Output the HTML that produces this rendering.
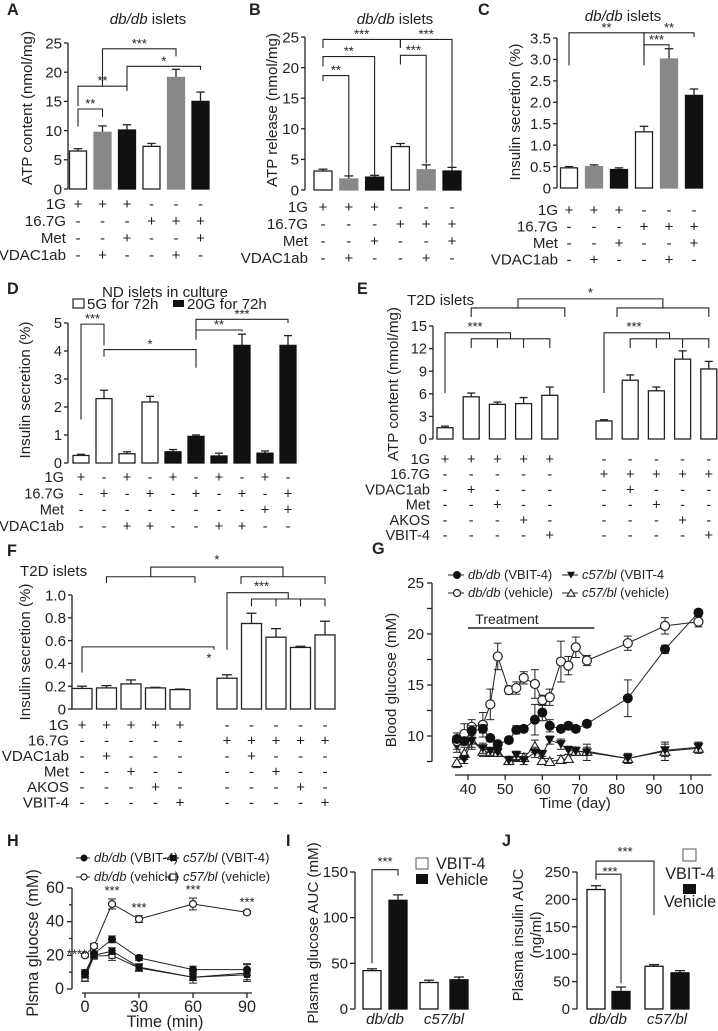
<!DOCTYPE html>
<html><head><meta charset="utf-8"><style>
html,body{margin:0;padding:0;background:#fff}
svg{display:block;font-family:"Liberation Sans",Arial,sans-serif}
</style></head><body>
<svg id="fig" xmlns="http://www.w3.org/2000/svg" width="718" height="1031" viewBox="0 0 718 1031"></svg>
<script>
// ---------- data ----------
const condA = {"1G":"+++---","16.7G":"---+++","Met":"--+--+","VDAC1ab":"-+--+-"};
const valsA = [6.5,9.7,10.1,7.3,19.1,15.0];
const errsA = [0.4,1.1,0.9,0.5,1.4,1.6];
const valsB = [3.1,1.8,2.1,7.1,3.3,3.1];
const errsB = [0.3,0.5,0.3,0.5,0.8,0.6];
const valsC = [0.47,0.50,0.43,1.31,3.01,2.16];
const errsC = [0.03,0.04,0.04,0.13,0.24,0.15];
const condD = {"1G":"+-+-+-+-+-","16.7G":"-+-+-+-+-+","Met":"--------++","VDAC1ab":"--++--++--"};
const valsD = [0.27,2.3,0.33,2.18,0.4,0.95,0.25,4.2,0.35,4.2];
const errsD = [0.04,0.3,0.07,0.2,0.08,0.05,0.1,0.4,0.08,0.35];
const condE = {"1G":"+++++-----","16.7G":"-----+++++","VDAC1ab":"-+----+---","Met":"--+----+--","AKOS":"---+----+-","VBIT-4":"----+----+"};
const valsE = [1.5,5.6,4.6,4.7,5.8,2.4,7.8,6.4,10.6,9.3];
const errsE = [0.2,0.5,0.3,0.8,1.1,0.15,0.7,0.5,1.1,1.0];
const valsF = [0.18,0.185,0.22,0.185,0.17,0.27,0.75,0.63,0.54,0.65];
const errsF = [0.02,0.02,0.035,0.005,0.005,0.03,0.09,0.075,0.01,0.12];
const daysG = [37,39,41,44,46,48,51,53,55,58,60,62,65,67,69,72,83,93,102];
const dbVbitG = [9.7,9.5,10.5,10.7,9.8,9.2,9.6,10.6,10.7,11.6,12.3,11.0,10.7,11.0,10.7,11.2,13.7,18.5,22.1];
const dbVbitErrG = [0.3,0.4,0.5,0.4,0.3,0.3,0.3,0.4,0.3,1.5,0.8,0.6,0.3,0.3,0.3,0.3,1.8,0.4,0.3];
const dbVehG = [9.5,10.2,10.9,11.1,13.1,17.8,14.5,14.7,15.7,15.1,13.5,13.8,17.3,16.9,18.7,17.4,19.1,20.8,21.2];
const dbVehErrG = [0.8,1.0,0.7,1.2,1.5,1.3,0.4,0.6,0.6,1.4,0.5,0.8,2.0,0.9,1.0,0.5,0.7,0.8,0.5];
const cVbitG = [9.0,7.7,9.5,8.8,8.5,8.4,7.6,8.1,7.6,8.4,8.2,9.6,9.2,8.6,8.5,8.4,7.8,8.6,8.9];
const cVbitErrG = [0.6,0.4,0.8,0.5,0.4,0.4,0.4,0.4,0.4,0.5,0.4,0.4,0.5,0.4,0.4,0.8,0.5,0.6,0.5];
const cVehG = [7.4,8.3,9.6,8.5,8.4,8.4,7.6,8.0,7.9,9.0,7.6,7.5,7.7,7.8,8.5,8.5,7.8,8.5,8.8];
const cVehErrG = [0.5,0.6,0.7,0.5,0.4,0.4,0.4,0.5,0.4,0.6,0.4,0.3,0.4,0.4,0.4,0.4,0.4,0.9,0.5];
const timeH = [0,5,15,30,60,90];
const dbVehH = [20,25.5,50.5,41.5,50.5,45.5];
const dbVehErrH = [1,1.5,3,2,3.5,1];
const dbVbitH = [9.5,21,29.5,18.5,11.5,11.5];
const dbVbitErrH = [2,1.5,2,1.5,2,3.5];
const cVbitH = [8.5,20,22.5,13,7,8.5];
const cVbitErrH = [2,1.5,2,2,2,3];
const cVehH = [6.5,19.5,20,12.5,7,9.5];
const cVehErrH = [2,1.5,3,2,3.5,5];
const sigH = ["****","","***","***","***","***"];
const valsI = [42,119,29,32];
const errsI = [2,6,2.5,3];
const valsJ = [218,32,78,66];
const errsJ = [7,8,3,4];
const catsIJ = ["db/db","c57/bl"];

// ---------- helpers ----------
const NS='http://www.w3.org/2000/svg';
const svg=document.getElementById('fig');
const FS=1.08;
function mk(tag,attrs,parent){const e=document.createElementNS(NS,tag);for(const k in attrs)e.setAttribute(k,attrs[k]);(parent||svg).appendChild(e);return e;}
function T(s,x,y,o,parent){o=o||{};const e=mk('text',{x:x,y:y,'font-size':(o.fs||14)*FS,'text-anchor':o.a||'start','font-style':o.it?'italic':'normal','font-weight':o.b?'bold':'normal',fill:'#222'},parent);if(o.rot)e.setAttribute('transform','rotate(-90 '+x+' '+y+')');e.textContent=s;return e;}
function L(x1,y1,x2,y2,parent,w){return mk('line',{x1:x1,y1:y1,x2:x2,y2:y2,stroke:'#222','stroke-width':w||1.3},parent);}
function P(d,parent,w){return mk('path',{d:d,fill:'none',stroke:'#222','stroke-width':w||1.3},parent);}
function lin(d0,d1,r0,r1){return v=>r0+(v-d0)*(r1-r0)/(d1-d0);}
function letter(s,x,y){const t=T(s,x,y,{fs:15,b:true});}
function mixed(it,rest,x,y,fs,anchor,parent){
  const t=mk('text',{x:x,y:y,'font-size':fs*FS,'text-anchor':anchor,fill:'#222'},parent);
  const a=mk('tspan',{'font-style':'italic'},t);a.textContent=it;
  const b=mk('tspan',{},t);b.textContent=rest;
  return t;
}
function title(it,rest,cx,y){
  const t=mixed(it,rest,cx,y,14,'middle');
  
  
}

function barPanel(p){
  const g=mk('g',{});
  
  
  const y=lin(0,p.max,p.yBot,p.yTop);
  const ax=mk('g',{},g);
  
  
  L(p.ax,y(0),p.ax,y(p.max),ax);
  p.ticks.forEach(t=>{L(p.ax-4,y(t),p.ax,y(t),ax);T(p.fmt?p.fmt(t):String(t),p.ax-6,y(t)+p.fs*0.38,{fs:p.fs,a:'end'},ax);});
  const yl=T(p.ylabel,p.ylx,p.yly,{fs:p.lfs||p.fs,a:'middle',rot:true},g);
  
  
  p.vals.forEach((v,i)=>{
    const cx=p.x(i),w=p.bw;
    const fill=p.fills[i];
    const top=y(v+p.errs[i]);
    L(cx,y(v),cx,top,g);L(cx-w*0.25,top,cx+w*0.25,top,g);
    const r=mk('rect',{x:cx-w/2,y:y(v),width:w,height:y(0)-y(v),fill:fill,stroke:fill==='#fff'?'#222':fill,'stroke-width':1.3},g);
    
    
  });
  if(p.cond){
    Object.keys(p.cond).forEach((k,ri)=>{
      const ry=p.rowY0+ri*p.rowStep;
      const lt=T(k,p.labelX,ry,{fs:p.rfs||p.fs,a:'end'},g);
      
      
      p.cond[k].split('').forEach((c,i)=>{T(c,p.x(i),ry,{fs:p.rfs||p.fs,a:'middle'},g);});
    });
  }
  (p.brackets||[]).forEach(b=>{
    const x1=p.x(b[0]),x2=p.x(b[1]),ly=y(b[2]);
    const bp=P('M'+x1+' '+y(b[3])+'V'+ly+'H'+x2+'V'+y(b[4]),g,1.1);
    
    
    T(b[5],(x1+x2)/2,ly-1,{fs:12,a:'middle'},g);
  });
  return {g:g,y:y};
}

// ---------- A ----------
letter('A',7,15);
title('db/db',' islets',148,24);
barPanel({id:'a',ax:68,yTop:43,yBot:189,max:25,ticks:[0,5,10,15,20,25],fs:14,ylabel:'ATP content (nmol/mg)',ylx:32,yly:108,
  x:i=>78+i*24.5,bw:17,vals:valsA,errs:errsA,fills:['#fff','#888','#111','#fff','#888','#111'],
  cond:condA,rowY0:209,rowStep:17,labelX:66,
  brackets:[[0,1,13.7,10.7,12.3,'**'],[0,2,17.6,14.2,16.8,'**'],[1,4,24,17.6,22.7,'***'],[2,5,21,17.6,20.4,'*']]});
// ---------- B ----------
letter('B',249,15);
title('db/db',' islets',395,24);
barPanel({id:'b',ax:305,yTop:37,yBot:190,max:25,ticks:[0,5,10,15,20,25],fs:14,ylabel:'ATP release (nmol/mg)',ylx:277,yly:110,
  x:i=>323+i*25.8,bw:18,vals:valsB,errs:errsB,fills:['#fff','#888','#111','#fff','#888','#111'],
  cond:condA,rowY0:212,rowStep:17,labelX:308,
  brackets:[[0,3,24.6,23.2,23.2,'***'],[3,5,24.6,23.2,3.8,'***'],[0,2,21.8,20.2,2.5,'**'],[3,4,22,20.5,4.3,'***'],[0,1,18.7,17.8,2.3,'**']]});
// ---------- C ----------
letter('C',478,15);
title('db/db',' islets',623,21);
barPanel({id:'c',ax:557,yTop:38,yBot:188,max:3.5,ticks:[0,0.5,1,1.5,2,2.5,3,3.5],fmt:t=>t===0?'0':t.toFixed(1),fs:14,ylabel:'Insulin secretion (%)',ylx:520,yly:112,
  x:i=>569+i*25,bw:17,vals:valsC,errs:errsC,fills:['#fff','#888','#111','#fff','#888','#111'],
  cond:condA,rowY0:215,rowStep:16.5,labelX:558,
  brackets:[[0,3,3.62,2.86,2.86,'**'],[3,5,3.62,3.3,3.52,'**'],[3,4,3.34,3.1,3.27,'***']]});
// ---------- D ----------
letter('D',7,294);
T('ND islets in culture',165,297,{fs:14,a:'middle'});
mk('rect',{x:73,y:299,width:11,height:9,fill:'#fff',stroke:'#222','stroke-width':1.2});
T('5G for 72h',87,309,{fs:14});
mk('rect',{x:173,y:300,width:11,height:7,fill:'#111'});
T('20G for 72h',187,309,{fs:14});
barPanel({id:'d',ax:68,yTop:323,yBot:463,max:5,ticks:[0,1,2,3,4,5],fs:13.5,lfs:14,ylabel:'Insulin secretion (%)',ylx:30,yly:390,
  x:i=>81+i*23,bw:16,vals:valsD,errs:errsD,fills:['#fff','#fff','#fff','#fff','#111','#111','#111','#111','#111','#111'],
  cond:condD,rowY0:482,rowStep:16.3,labelX:64,
  brackets:[[0,1,4.96,1.55,4.2,'***'],[1,5,4.05,3.8,3.4,'*'],[5,7,4.75,4.4,4.7,'**'],[5,9,5.13,4.7,5.0,'***']]});
// ---------- E ----------
letter('E',357,294);
const xE=i=>445+i*26.2+(i>=5?28:0);
const E=barPanel({id:'e',ax:433,yTop:326,yBot:439,max:15,ticks:[0,3,6,9,12,15],fs:13.5,lfs:14,ylabel:'ATP content (nmol/mg)',ylx:398,yly:384,
  x:xE,bw:16,vals:valsE,errs:errsE,fills:Array(10).fill('#fff'),
  cond:condE,rowY0:464,rowStep:15.2,labelX:430,brackets:[]});
T('T2D islets',407,305,{fs:14});
(function(){const y=E.y;
  [[0,1,4],[5,6,9]].forEach(gp=>{
    const xa=xE(gp[0]),xm=(xE(gp[1])+xE(gp[2]))/2;
    P('M'+xa+' '+y(6.1)+'V'+y(14.1)+'H'+xm+'V'+y(13.3),E.g,1.1);
    P('M'+xE(gp[1])+' '+y(12.1)+'V'+y(13.3)+'H'+xE(gp[2])+'V'+y(12.1),E.g,1.1);
    for(let k=gp[1]+1;k<gp[2];k++)L(xE(k),y(13.3),xE(k),y(12.1),E.g,1.1);
    T('***',xa+30,y(14.1)-2,{fs:12,a:'middle'},E.g);
  });
  const l1=xE(1),l2=xE(4)+15,r1=xE(5)+13,r2=xE(9);
  P('M'+l1+' '+y(16.2)+'V'+y(17.4)+'H'+l2+'V'+y(16.2),E.g,1.1);
  P('M'+r1+' '+y(16.2)+'V'+y(17.4)+'H'+r2+'V'+y(16.2),E.g,1.1);
  P('M'+((l1+l2)/2)+' '+y(17.4)+'V'+y(18.6)+'H'+((r1+r2)/2)+'V'+y(17.4),E.g,1.1);
  T('*',(l1+l2+r1+r2)/4,y(18.6)-2,{fs:12,a:'middle'},E.g);
})();
// ---------- F ----------
letter('F',7,556);
T('T2D islets',20,576,{fs:14});
const xF=i=>82+i*24.5+(i>=5?22.5:0);
const F=barPanel({id:'f',ax:72,yTop:595,yBot:709,max:1.0,ticks:[0,0.2,0.4,0.6,0.8,1.0],fmt:t=>t===0?'0':t.toFixed(1),fs:14,ylabel:'Insulin secretion (%)',ylx:30,yly:652,
  x:xF,bw:20,vals:valsF,errs:errsF,fills:Array(10).fill('#fff'),
  cond:condE,rowY0:730,rowStep:15.5,labelX:69,brackets:[]});
(function(){const y=F.y;
  const l1=xF(1),l2=xF(4)+15,r1=xF(5)+14,r2=xF(9);
  P('M'+l1+' '+y(1.105)+'V'+y(1.16)+'H'+l2+'V'+y(1.105),F.g,1.1);
  P('M'+r1+' '+y(1.095)+'V'+y(1.16)+'H'+r2+'V'+y(1.095),F.g,1.1);
  P('M'+((l1+l2)/2)+' '+y(1.16)+'V'+y(1.245)+'H'+((r1+r2)/2)+'V'+y(1.16),F.g,1.1);
  T('*',(l1+l2+r1+r2)/4,y(1.245)-3,{fs:12,a:'middle'},F.g);
  const xm=(xF(6)+xF(9))/2;
  P('M'+xF(5)+' '+y(0.52)+'V'+y(1.02)+'H'+xm+'V'+y(0.965),F.g,1.1);
  P('M'+xF(6)+' '+y(0.9)+'V'+y(0.965)+'H'+xF(9)+'V'+y(0.9),F.g,1.1);
  for(let k=7;k<9;k++)L(xF(k),y(0.965),xF(k),y(0.9),F.g,1.1);
  T('***',xF(6)+10,y(1.02)-2,{fs:12,a:'middle'},F.g);
  P('M'+xF(0)+' '+y(0.32)+'V'+y(0.545)+'H'+(xF(5)-13)+'V'+y(0.52),F.g,1.1);
  T('*',xF(5)-18,y(0.41),{fs:12,a:'middle'},F.g);
})();

// ---------- markers ----------
function marker(type,cx,cy,s,parent){
  let e;
  if(type==='fc')e=mk('circle',{cx:cx,cy:cy,r:s,fill:'#111',stroke:'#111'},parent);
  else if(type==='oc')e=mk('circle',{cx:cx,cy:cy,r:s,fill:'#fff',stroke:'#222','stroke-width':1.2},parent);
  else if(type==='dt')e=mk('path',{d:'M'+(cx-s)+' '+(cy-s*0.8)+'H'+(cx+s)+'L'+cx+' '+(cy+s*0.9)+'Z',fill:'#111'},parent);
  else if(type==='ut')e=mk('path',{d:'M'+(cx-s)+' '+(cy+s*0.8)+'H'+(cx+s)+'L'+cx+' '+(cy-s*0.9)+'Z',fill:'#fff',stroke:'#222','stroke-width':1.1},parent);
  else if(type==='fs')e=mk('rect',{x:cx-s,y:cy-s,width:2*s,height:2*s,fill:'#111'},parent);
  else e=mk('rect',{x:cx-s,y:cy-s,width:2*s,height:2*s,fill:'#fff',stroke:'#222','stroke-width':1.1},parent);
  return e;
}
function series(name,xs,ys,es,xf,yf,type,s,parent){
  const g=mk('g',{},parent);
  
  
  let d='';
  xs.forEach((x,i)=>{d+=(i?'L':'M')+xf(x)+' '+yf(ys[i]);});
  P(d,g,1);
  xs.forEach((x,i)=>{const cx=xf(x);L(cx,yf(ys[i]-es[i]),cx,yf(ys[i]+es[i]),g,1);L(cx-4,yf(ys[i]+es[i]),cx+4,yf(ys[i]+es[i]),g,1);L(cx-4,yf(ys[i]-es[i]),cx+4,yf(ys[i]-es[i]),g,1);});
  xs.forEach((x,i)=>{const m=marker(type,xf(x),yf(ys[i]),s,g);
    
    });
}

// ---------- G ----------
letter('G',372,554);
(function(){
  const g=mk('g',{});
  
  
  const xf=lin(40,100,468,691), yf=lin(10,25,736,583);
  L(432,yf(7.5),432,yf(25),g);
  [7.5,10,12.5,15,17.5,20,22.5,25].forEach(t=>{L(427,yf(t),432,yf(t),g);if(t%5===0)T(String(t),424,yf(t)+5,{fs:14,a:'end'},g);});
  L(xf(36.5),775,xf(105.5),775,g);
  [40,50,60,70,80,90,100].forEach(t=>{L(xf(t),775,xf(t),780,g);T(String(t),xf(t),794,{fs:14,a:'middle'},g);});
  T('Time (day)',575,808,{fs:14,a:'middle'},g);
  T('Blood glucose (mM)',396,680,{fs:14,a:'middle',rot:true},g);
  L(xf(40),628,xf(74),628,g,1.5);
  T('Treatment',507,624,{fs:13,a:'middle'},g);
  series('c57-vehicle',daysG,cVehG,cVehErrG,xf,yf,'ut',5,g);
  series('c57-vbit4',daysG,cVbitG,cVbitErrG,xf,yf,'dt',5,g);
  series('dbdb-vehicle',daysG,dbVehG,dbVehErrG,xf,yf,'oc',4.5,g);
  series('dbdb-vbit4',daysG,dbVbitG,dbVbitErrG,xf,yf,'fc',4.5,g);
  const lg=mk('g',{},g);
  
  
  [[448,575,'fc','db/db',' (VBIT-4)'],[448,593,'oc','db/db',' (vehicle)'],[562,575,'dt','c57/bl',' (VBIT-4'],[562,593,'ut','c57/bl',' (vehicle)']].forEach(r=>{
    L(r[0],r[1],r[0]+16,r[1],lg,1);marker(r[2],r[0]+9,r[1],r[2]==='fc'||r[2]==='oc'?3.5:4,lg);
    mixed(r[3],'\u00a0'+r[4].trim(),r[0]+20,r[1]+4,12,'start',lg);
  });
})();

// ---------- H ----------
letter('H',7,846);
(function(){
  const g=mk('g',{});
  
  
  const xf=lin(0,90,85,247), yf=lin(0,60,989,888);
  L(72,yf(0),72,yf(60),g);
  [0,20,40,60].forEach(t=>{L(67,yf(t),72,yf(t),g);T(String(t),64,yf(t)+5,{fs:15,a:'end'},g);});
  [10,30,50].forEach(t=>L(69,yf(t),72,yf(t),g));
  L(82,993,252,993,g);
  [0,30,60,90].forEach(t=>{L(xf(t),993,xf(t),998,g);T(String(t),xf(t),1012,{fs:15,a:'middle'},g);});
  T('Time (min)',165,1027,{fs:15,a:'middle'},g);
  T('Plsma gluocse (mM)',38,943,{fs:15,a:'middle',rot:true},g);
  series('c57-vehicle-h',timeH,cVehH,cVehErrH,xf,yf,'os',3,g);
  series('c57-vbit4-h',timeH,cVbitH,cVbitErrH,xf,yf,'fs',3.2,g);
  series('dbdb-vbit4-h',timeH,dbVbitH,dbVbitErrH,xf,yf,'fc',3.5,g);
  series('dbdb-vehicle-h',timeH,dbVehH,dbVehErrH,xf,yf,'oc',3.5,g);
  timeH.forEach((t,i)=>{if(sigH[i]){const xx=i===0?xf(t)-8:xf(t);const yy=i===0?yf(dbVehH[i])+3:yf(dbVehH[i]+dbVehErrH[i])-4;T(sigH[i],xx,yy,{fs:12,a:'middle'},g);}});
  const lg=mk('g',{},g);
  
  
  [[76,858,'fc','db/db','(VBIT-4)'],[76,877,'oc','db/db','(vehicle)'],[165,858,'fs','c57/bl','(VBIT-4)'],[165,877,'os','c57/bl','(vehicle)']].forEach(r=>{
    L(r[0],r[1],r[0]+14,r[1],lg,1);marker(r[2],r[0]+8,r[1],3,lg);
    mixed(r[3],'\u00a0'+r[4],r[0]+18,r[1]+4,12,'start',lg);
  });
})();

// ---------- I & J ----------
function aucPanel(id,ax,max,ticks,vals,errs,xs,catX,yl){
  const g=mk('g',{});
  
  
  const y=lin(0,max,1009,872);
  L(ax,y(0),ax,y(max),g);
  ticks.forEach(t=>{L(ax-5,y(t),ax,y(t),g);T(String(t),ax-7,y(t)+5,{fs:14,a:'end'},g);});
  vals.forEach((v,i)=>{
    const cx=xs[i],fill=i%2?'#111':'#fff';
    const top=y(v+errs[i]);
    L(cx,y(v),cx,top,g);L(cx-5,top,cx+5,top,g);
    const r=mk('rect',{x:cx-9,y:y(v),width:18,height:y(0)-y(v),fill:fill,stroke:'#111','stroke-width':1.3},g);
    
    
  });
  catsIJ.forEach((c,i)=>{const t=T(c,catX[i],1024,{fs:14,it:true,a:'middle'},g);
    
    });
  return {g:g,y:y};
}
letter('I',286,846);
const I=aucPanel('i',355,150,[0,50,100,150],valsI,errsI,[372,398,429,459],[385,444]);
T('Plasma glucose AUC (mM)',318,933,{fs:14,a:'middle',rot:true});
P('M372 '+I.y(50)+'V'+I.y(152.5)+'H398V'+I.y(146),I.g,1.1);
T('***',385,866,{fs:12,a:'middle'});
mk('rect',{x:416,y:858,width:12,height:11,fill:'#fff',stroke:'#555','stroke-width':1});
T('VBIT-4',436,869,{fs:15});
mk('rect',{x:416,y:874,width:12,height:10,fill:'#111'});
T('Vehicle',436,885,{fs:15});
letter('J',502,846);
const J=aucPanel('j',577,250,[0,50,100,150,200,250],valsJ,errsJ,[596,621,654,680],[608,667]);
T('Plasma insulin AUC',523,935,{fs:14,a:'middle',rot:true});
T('(ng/ml)',541,935,{fs:14,a:'middle',rot:true});
P('M596 '+J.y(236)+'V'+J.y(270)+'H654V'+J.y(171),J.g,1.1);
T('***',625,856,{fs:12,a:'middle'});
P('M596 '+J.y(236)+'V'+J.y(246)+'H621V'+J.y(47),J.g,1.1);
T('***',610,876,{fs:12,a:'middle'});
mk('rect',{x:683,y:849,width:13,height:12,fill:'#fff',stroke:'#555','stroke-width':1});
T('VBIT-4',690,879,{fs:15,a:'middle'});
mk('rect',{x:683,y:884,width:13,height:10,fill:'#111'});
T('Vehicle',690,907,{fs:15,a:'middle'});
</script>
</body></html>
